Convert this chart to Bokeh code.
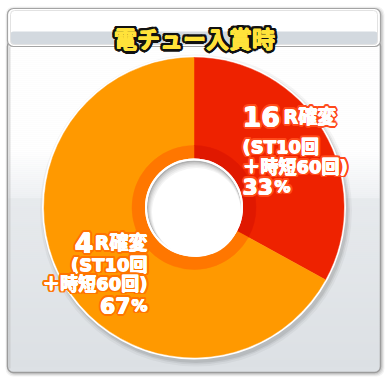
import math
from bokeh.plotting import figure
from bokeh.models import Range1d, ColumnDataSource
from bokeh.core.properties import value
from bokeh.embed import file_html
from bokeh.resources import INLINE

# ---- data ----
title = "電チュー入賞時"
round_nums = ["16", "4"]
round_unit = "R確変"
detail_line1 = "(ST10回"
detail_line2 = "＋時短60回)"
shares = [33, 67]
slice_colors = ["#EE2200", "#FF9900"]
ring_colors = ["#E01800", "#FF7700"]
outline_colors = ["#FF4A1A", "#FF7400"]

W, H = 387, 377
def Y(y):
    return H - y

p = figure(width=W, height=H, x_range=Range1d(0, W), y_range=Range1d(0, H),
           output_backend="svg", toolbar_location=None, min_border=0)
p.axis.visible = False
p.grid.visible = False
p.outline_line_color = None
p.background_fill_color = "white"
p.border_fill_color = "white"

LAT = "'DejaVu Sans', 'Noto Sans CJK JP', sans-serif"
CJK = "'Noto Sans CJK JP', sans-serif"

def hex2rgb(h):
    h = h.lstrip("#")
    return tuple(int(h[i:i+2], 16) for i in (0, 2, 4))

def mix(a, b, t):
    a, b = hex2rgb(a), hex2rgb(b)
    return "#%02x%02x%02x" % tuple(int(round(a[i] + (b[i] - a[i]) * t)) for i in range(3))

# ---- frame shadow ----
for k, a in [(3, 0.05), (2, 0.07), (1, 0.09)]:
    p.quad(left=[7 - k + 1], right=[380 + k + 1], top=[Y(8 - k + 1)], bottom=[Y(372 + k + 1)],
           fill_color="black", fill_alpha=a, line_color=None, border_radius=8)

# ---- panel ----
p.quad(left=[7], right=[380], top=[Y(40)], bottom=[Y(372)], fill_color="#DDE1E5",
       line_color=None, border_radius=6)
strips_l, strips_r, strips_t, strips_b, strips_c = [], [], [], [], []
y = 40
while y < 366:
    y2 = y + 2
    if y < 150:
        c = "#FFFFFF"
    elif y < 197:
        c = mix("#FFFFFF", "#EEF0F3", (y - 150) / 47)
    else:
        c = mix("#E7EAED", "#DCE0E4", (y - 197) / 170)
    strips_l.append(8); strips_r.append(379)
    strips_t.append(Y(y)); strips_b.append(Y(y2)); strips_c.append(c)
    y = y2
p.quad(left=strips_l, right=strips_r, top=strips_t, bottom=strips_b,
       fill_color=strips_c, line_color=strips_c, line_width=0.5)
p.quad(left=[7], right=[380], top=[Y(40)], bottom=[Y(372)], fill_color=None,
       line_color="#9C9C9C", line_width=1.5, border_radius=6)
p.quad(left=[8.5], right=[10], top=[Y(46)], bottom=[Y(368)], fill_color="#BDBDBD",
       fill_alpha=0.5, line_color=None)

# ---- title box ----
p.quad(left=[7], right=[380], top=[Y(8)], bottom=[Y(46)], fill_color="white",
       line_color="#A4A4A4", line_width=1.2, border_radius=6)
p.quad(left=[10], right=[377], top=[Y(31)], bottom=[Y(44)], fill_color="#D3D9DF",
       line_color=None, border_radius=3)
p.quad(left=[10], right=[377], top=[Y(10)], bottom=[Y(44)], fill_color=None,
       line_color="#E2E2E2", line_width=1, border_radius=4)

def outlined(x, y, text, size, fill, stroke, align="left", font=LAT, r=2.4, n=16, bold=0.5):
    xs, ys = [], []
    for i in range(n):
        a = 2 * math.pi * i / n
        xs.append(x + r * math.cos(a)); ys.append(Y(y) + r * math.sin(a))
    for i in range(8):
        a = 2 * math.pi * i / 8
        xs.append(x + r * 0.5 * math.cos(a)); ys.append(Y(y) + r * 0.5 * math.sin(a))
    p.text(x=xs, y=ys, text=[text] * len(xs), text_font=value(font),
           text_font_size=f"{size}px", text_font_style="bold", text_color=stroke,
           text_align=align, text_baseline="alphabetic")
    fx = [x, x + bold, x - bold, x, x]
    fy = [Y(y), Y(y), Y(y), Y(y) + bold, Y(y) - bold]
    p.text(x=fx, y=fy, text=[text] * len(fx), text_font=value(font),
           text_font_size=f"{size}px", text_font_style="bold", text_color=fill,
           text_align=align, text_baseline="alphabetic")

outlined(194, 37, title, 23, "#FFE23A", "#111111", align="center", font=CJK, r=3.0, bold=0.45)

# ---- pie ----
cx, cy, R = 193.5, 207, 150
for k, a in [(6, 0.04), (4, 0.06), (2.5, 0.08)]:
    p.circle(x=[cx + 2], y=[Y(cy + 3)], radius=R + k, fill_color="black",
             fill_alpha=a, line_color=None)
p.circle(x=[cx], y=[Y(cy)], radius=R + 2, fill_color="white", line_color=None)

total = sum(shares)
starts, ends = [], []
cum = 0
for s in shares:
    starts.append(math.pi / 2 - 2 * math.pi * cum / total)
    cum += s
    ends.append(math.pi / 2 - 2 * math.pi * cum / total)
src = ColumnDataSource(dict(x=[cx] * len(shares), y=[Y(cy)] * len(shares),
                            start=starts, end=ends, color=slice_colors, ring=ring_colors))
p.wedge(x="x", y="y", radius=R, start_angle="start", end_angle="end",
        direction="clock", fill_color="color", line_color="color", line_width=0.5, source=src)
p.annular_wedge(x="x", y="y", inner_radius=46, outer_radius=62, start_angle="start",
                end_angle="end", direction="clock", fill_color="ring", line_color="ring",
                line_width=0.5, source=src)

# hole
p.circle(x=[cx], y=[Y(cy)], radius=49, fill_color="white", line_color=None)
p.circle(x=[cx], y=[Y(cy)], radius=47, fill_color="#B0B0B0", line_color=None)
for off, rr, c in [(1.0, 46.5, "#C8C8C8"), (2.0, 46, "#DADADA"), (3.0, 45.5, "#E8E8E8"),
                   (4.0, 45, "#F4F4F4"), (5.0, 44.5, "#FFFFFF")]:
    p.circle(x=[cx + off * 0.5], y=[Y(cy + off)], radius=rr, fill_color=c, line_color=None)
p.circle(x=[cx], y=[Y(cy)], radius=48, fill_color=None, line_color="white", line_width=2)

# ---- labels ----
# 16R slice (left aligned)
oc = outline_colors[0]
outlined(242, 116, round_nums[0], 27, "white", oc)
outlined(283, 116, round_unit, 19, "white", oc)
outlined(242, 146, detail_line1, 18, "white", oc)
outlined(242, 166, detail_line2, 18, "white", oc)
outlined(242, 186, str(shares[0]), 22, "white", oc)
outlined(274, 186, "%", 16, "white", oc)

# 4R slice (right aligned)
oc = outline_colors[1]
outlined(93, 242, round_nums[1], 27, "white", oc, align="right")
outlined(147, 242, round_unit, 19, "white", oc, align="right")
outlined(147, 264, detail_line1, 18, "white", oc, align="right")
outlined(147, 283, detail_line2, 18, "white", oc, align="right")
outlined(130, 305, str(shares[1]), 22, "white", oc, align="right")
outlined(147, 305, "%", 16, "white", oc, align="right")

open("out.html", "w").write(file_html(p, INLINE))
